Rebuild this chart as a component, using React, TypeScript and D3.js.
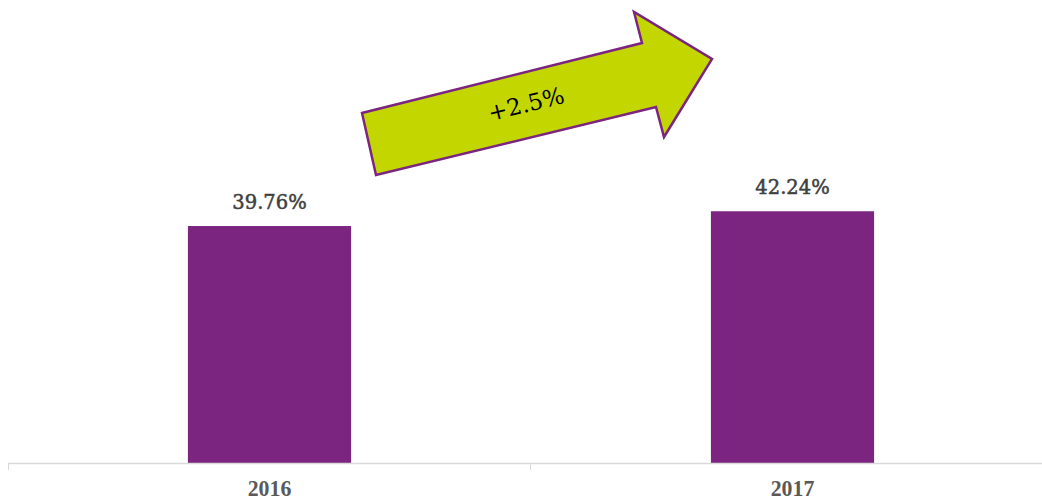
import React from "react";
import * as d3 from "d3";

const categories = ["2016", "2017"];
const values = [39.76, 42.24];
const valueLabels = ["39.76%", "42.24%"];
const changeLabel = "+2.5%";

const W = 1042;
const H = 502;

export default function App() {
  const x = d3.scaleBand<string>().domain(categories).range([8, 1054]).paddingInner(0).paddingOuter(0);
  const y = d3.scaleLinear().domain([0, 50]).range([463, 165]);
  const barW = x.bandwidth() * 0.312;
  const serif = "'DejaVu Serif', serif";

  const arrowPts: [number, number][] = [
    [376, 175],
    [362, 113],
    [642, 43],
    [634, 12],
    [712, 59],
    [664, 137],
    [656, 107],
  ];

  const tickXs = [8, 530, 1052];

  return (
    <svg
      width={W}
      height={H}
      style={{ position: "absolute", left: 0, top: 0, background: "#fff" }}
    >
      {categories.map((c, i) => {
        const cx = (x(c) as number) + x.bandwidth() / 2;
        return (
          <g key={c}>
            <rect
              x={cx - barW / 2}
              y={y(values[i])}
              width={barW}
              height={y(0) - y(values[i])}
              fill="#7B2581"
            />
            <text
              x={cx}
              y={y(values[i]) - 17}
              textAnchor="middle"
              fontFamily={serif}
              fontSize={19.5}
              fill="#404040"
              stroke="#404040"
              strokeWidth={0.5}
            >
              {valueLabels[i]}
            </text>
            <text
              x={cx}
              y={496}
              textAnchor="middle"
              fontFamily="'Liberation Serif', serif"
              fontWeight="bold"
              fontSize={23}
              fill="#595959"
              transform={`translate(${cx},0) scale(0.95,1) translate(${-cx},0)`}
            >
              {c}
            </text>
          </g>
        );
      })}
      <line x1={8} x2={W} y1={y(0) + 0.5} y2={y(0) + 0.5} stroke="#d9d9d9" strokeWidth={1.5} />
      {tickXs.map((t) => (
        <line key={t} x1={t + 0.5} x2={t + 0.5} y1={y(0)} y2={y(0) + 7} stroke="#d9d9d9" strokeWidth={1} />
      ))}
      <polygon
        points={arrowPts.map((p) => p.join(",")).join(" ")}
        fill="#C4D600"
        stroke="#7B2581"
        strokeWidth={2.5}
        strokeLinejoin="miter"
      />
      <text
        x={526}
        y={112}
        textAnchor="middle"
        fontFamily={serif}
        fontSize={23}
        fill="#000"
        transform="rotate(-14 526 104)"
      >
        {changeLabel}
      </text>
    </svg>
  );
}
